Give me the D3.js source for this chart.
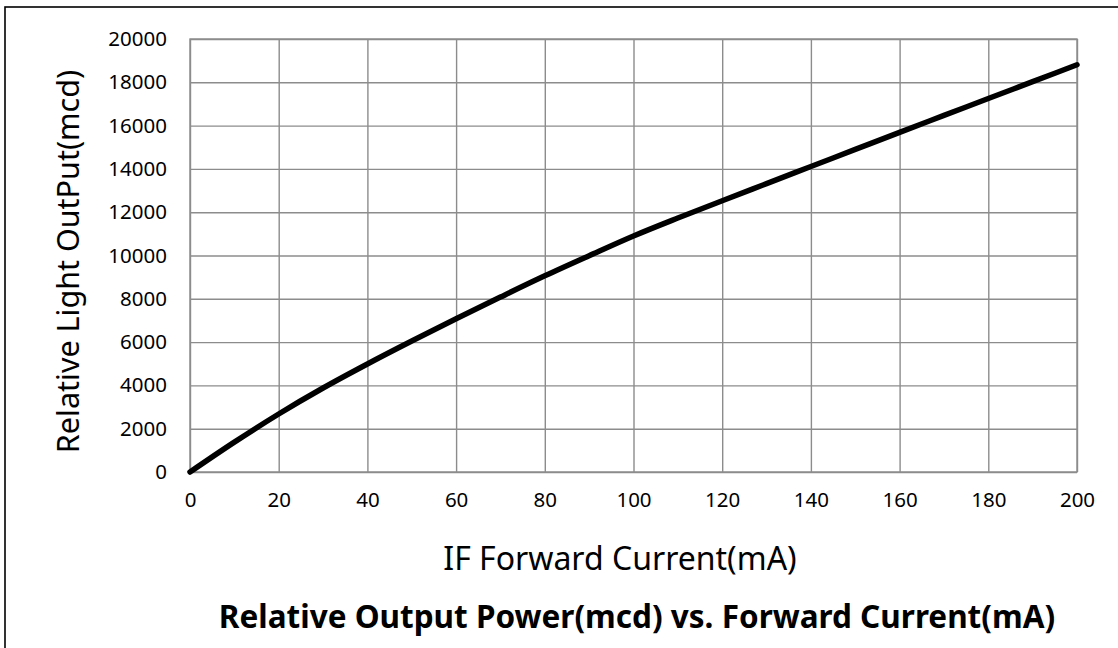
<!DOCTYPE html>
<html>
<head>
<meta charset="utf-8">
<script src="https://cdn.jsdelivr.net/npm/d3@7"></script>
<style>
  body { margin: 0; background: #fff; }
  svg { display: block; font-family: "Noto Sans", sans-serif; }
  .grid line { stroke: #8c8c8c; stroke-width: 1.4; }
  .grid path { display: none; }
  .tick text { font-family: "Noto Sans", sans-serif; font-size: 20.5px; fill: #000; }
</style>
</head>
<body>
<script>
// forward current (mA) vs relative light output (mcd)
var currents = [0, 10, 20, 30, 40, 50, 60, 70, 80, 90, 100, 110, 120, 130, 140, 150, 160, 170, 180, 190, 200];
var output = [0, 1380, 2680, 3880, 4990, 6050, 7080, 8080, 9060, 9990, 10900, 11730, 12530, 13320, 14110, 14900, 15690, 16470, 17250, 18030, 18810];
var xTicks = [0, 20, 40, 60, 80, 100, 120, 140, 160, 180, 200];
var yTicks = [0, 2000, 4000, 6000, 8000, 10000, 12000, 14000, 16000, 18000, 20000];

var data = currents.map(function(c, i){ return {x: c, y: output[i]}; });

var W = 1118, H = 648;
var plotX = 190, plotY = 39, plotW = 887, plotH = 433;

var svg = d3.select('body').append('svg')
    .attr('width', W)
    .attr('height', H);

// outer frame
svg.append('rect')
    .attr('x', 5).attr('y', 7)
    .attr('width', W + 20).attr('height', H + 20)
    .attr('fill', 'none')
    .attr('stroke', '#000')
    .attr('stroke-width', 1.6);

var x = d3.scaleLinear().domain([0, 200]).range([0, plotW]);
var y = d3.scaleLinear().domain([0, 20000]).range([plotH, 0]);

var g = svg.append('g').attr('transform', 'translate(' + plotX + ',' + plotY + ')');

g.append('g').attr('class', 'grid')
    .attr('transform', 'translate(0,' + plotH + ')')
    .call(d3.axisBottom(x).tickValues(xTicks).tickSize(-plotH).tickPadding(20).tickFormat(d3.format('d')));

g.append('g').attr('class', 'grid')
    .call(d3.axisLeft(y).tickValues(yTicks).tickSize(-plotW).tickPadding(23).tickFormat(d3.format('d')));

// frame of plot area
g.append('rect')
    .attr('width', plotW).attr('height', plotH)
    .attr('fill', 'none')
    .attr('stroke', '#8c8c8c')
    .attr('stroke-width', 1.4);

var line = d3.line()
    .x(function(d){ return x(d.x); })
    .y(function(d){ return y(d.y); })
    .curve(d3.curveMonotoneX);

g.append('path')
    .attr('d', line(data))
    .attr('fill', 'none')
    .attr('stroke', '#000')
    .attr('stroke-width', 5.5)
    .attr('stroke-linecap', 'round');

svg.append('text')
    .attr('x', 620).attr('y', 570)
    .attr('text-anchor', 'middle')
    .style('font-size', '32px')
    .text('IF Forward Current(mA)');

svg.append('text')
    .attr('transform', 'translate(79,' + (plotY + plotH / 2 + 6) + ') rotate(-90)')
    .attr('text-anchor', 'middle')
    .style('font-size', '30.5px')
    .text('Relative Light OutPut(mcd)');

svg.append('text')
    .attr('x', 637).attr('y', 628)
    .attr('text-anchor', 'middle')
    .style('font-size', '31.5px')
    .style('font-weight', 'bold')
    .text('Relative Output Power(mcd) vs. Forward Current(mA)');
</script>
</body>
</html>
